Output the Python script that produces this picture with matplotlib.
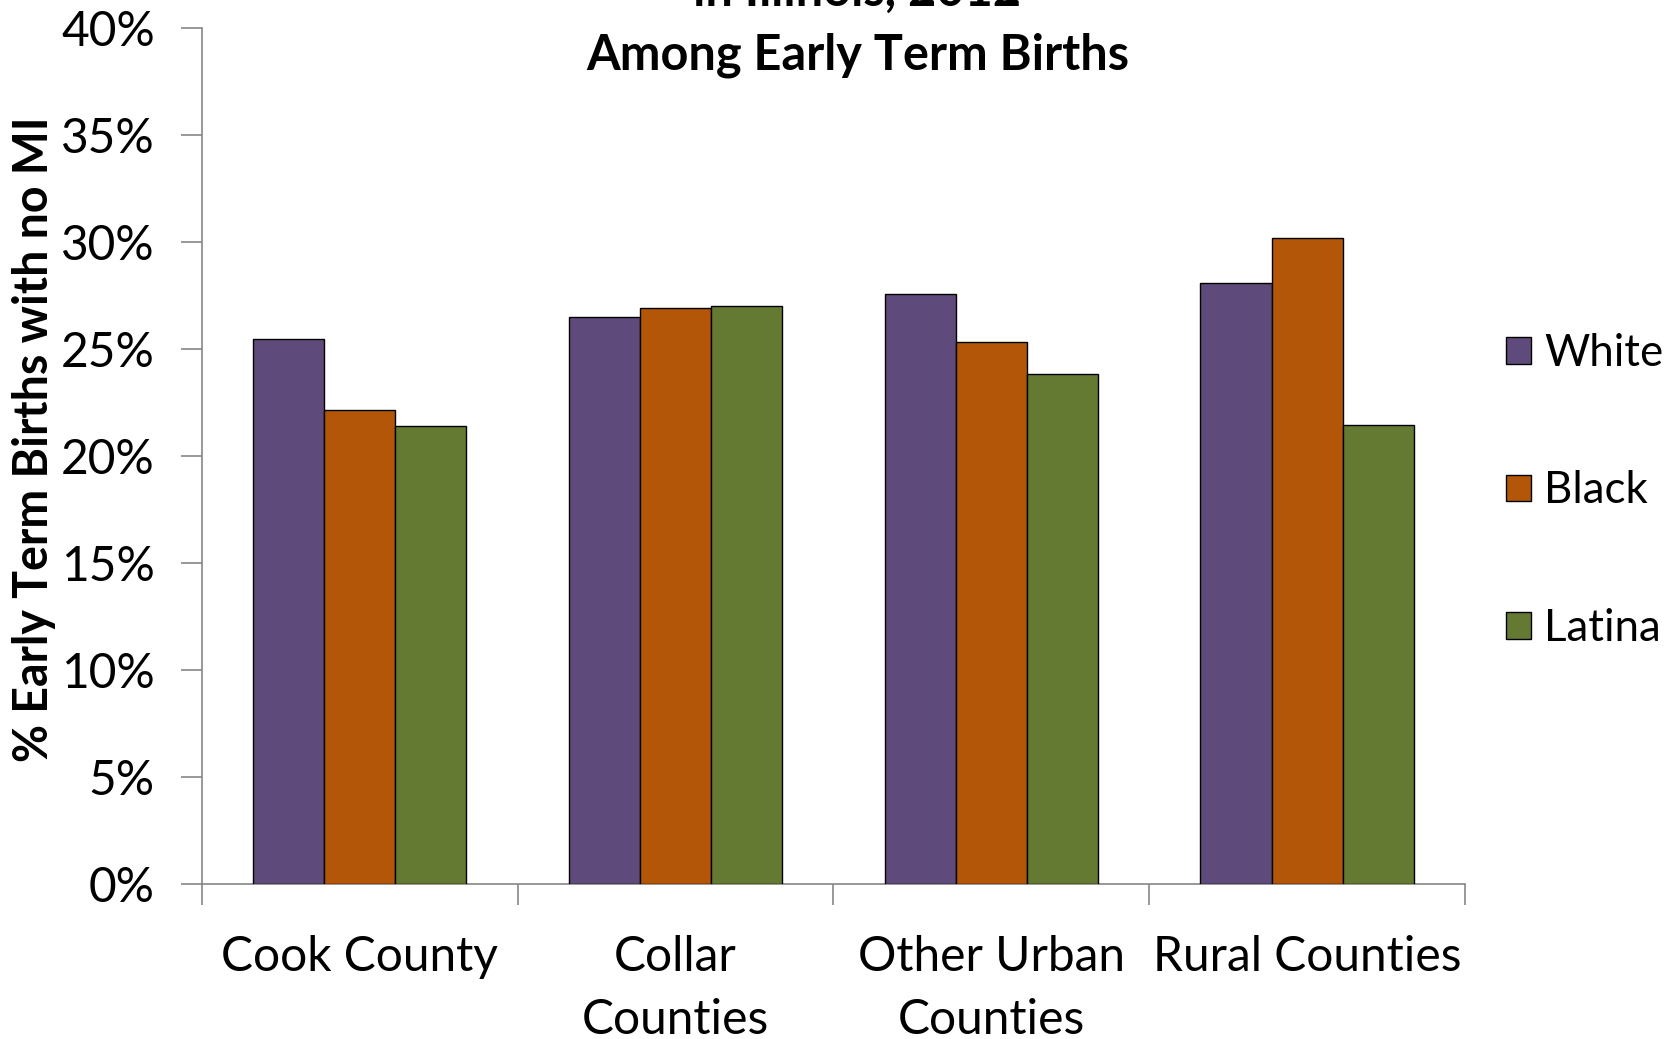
import numpy as np
import matplotlib.pyplot as plt

# data
categories = ["Cook County", "Collar\nCounties", "Other Urban\nCounties", "Rural Counties"]
groups = ["White", "Black", "Latina"]
white = [25.45, 26.5, 27.55, 28.1]
black = [22.15, 26.9, 25.35, 30.2]
latina = [21.4, 27.0, 23.85, 21.45]
colors = ["#5F4B7B", "#B35608", "#647A33"]

plt.rcParams['font.family'] = ['Lato', 'DejaVu Sans']

fig = plt.figure(figsize=(16.78, 10.39), dpi=100)
ax = fig.add_axes([0.1204, 0.1492, 0.7526, 0.8238])

x = np.arange(len(categories))
w = 0.225
for k, (vals, name) in enumerate(zip([white, black, latina], groups)):
    ax.bar(x + (k - 1) * w, vals, width=w, color=colors[k], edgecolor='black',
           linewidth=1.0, label=name, zorder=3)

ax.set_xlim(-0.5, len(categories) - 0.5)
ax.set_ylim(0, 40)
ax.set_yticks(np.arange(0, 41, 5))
ax.set_yticklabels([f"{v}%" for v in range(0, 41, 5)], fontsize=34.5)

# categories between tick marks
ax.set_xticks(np.arange(-0.5, len(categories), 1.0))
ax.set_xticklabels([])
ax.set_xticks(x, minor=True)
ax.set_xticklabels(categories, minor=True, fontsize=34.5, linespacing=1.52)
ax.tick_params(axis='x', which='minor', length=0, pad=37)
ax.tick_params(axis='x', which='major', length=15, width=1.2, color='#868686', direction='out')
ax.tick_params(axis='y', length=15, width=1.2, color='#868686', direction='out', pad=19)

for s in ['top', 'right']:
    ax.spines[s].set_visible(False)
for s in ['left', 'bottom']:
    ax.spines[s].set_color('#868686')
    ax.spines[s].set_linewidth(1.2)

ax.set_ylabel("% Early Term Births with no MI", fontsize=33.5, fontweight='bold')
ax.yaxis.set_label_coords(-0.116, 0.52)

fig.text(0.511, 1.008, "in Illinois, 2012", ha='center', va='center', fontsize=35, fontweight='bold')
fig.text(0.511, 0.947, "Among Early Term Births", ha='center', va='center', fontsize=35, fontweight='bold')

fig.legend(loc='center left', bbox_to_anchor=(0.8975, 0.5275), frameon=False,
           fontsize=31.5, handlelength=0.57, handleheight=0.57, handletextpad=0.3,
           labelspacing=2.2, borderpad=0, borderaxespad=0)

fig.savefig("out.png", dpi=100)
